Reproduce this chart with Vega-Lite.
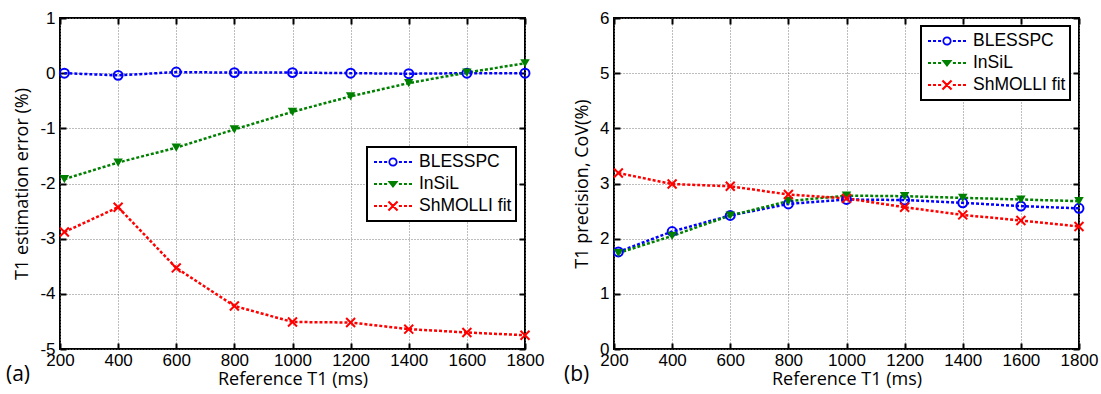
{
  "$schema": "https://vega.github.io/schema/vega-lite/v6.json",
  "background": "white",
  "padding": {"left": 5, "top": 8, "right": 5, "bottom": 2},
  "spacing": 18,
  "resolve": {"scale": {"color": "independent", "shape": "independent", "stroke": "independent"}, "legend": {"color": "independent", "shape": "independent"}},
  "config": {
    "view": {"stroke": "#000", "strokeWidth": 2},
    "axis": {
      "domain": false, "grid": true, "gridColor": "#7a7a7a", "gridDash": [1, 2], "gridWidth": 1,
      "tickColor": "#000", "tickSize": -6, "tickWidth": 2,
      "labelFont": "Liberation Sans", "labelFontSize": 17, "labelColor": "#000", "labelOverlap": false, "labelFlush": false, "format": "d",
      "titleFont": "Open Sans", "titleFontSize": 18, "titleFontWeight": "normal", "titleColor": "#000"
    },
    "legend": {
      "symbolSize": 1444, "clipHeight": 22, "symbolOffset": 3, "labelOffset": 7,
      "labelFont": "Liberation Sans", "labelFontSize": 17.5, "labelColor": "#000",
      "strokeColor": "#000", "strokeWidth": 2, "fillColor": "#fff", "padding": 4, "rowPadding": 0,
      "symbolStrokeWidth": 0, "symbolOpacity": 1
    }
  },
  "datasets": {
    "a": [
      {"x": 215, "y": 0.0, "series": "BLESSPC"}, {"x": 400, "y": -0.04, "series": "BLESSPC"}, {"x": 600, "y": 0.02, "series": "BLESSPC"},
      {"x": 800, "y": 0.01, "series": "BLESSPC"}, {"x": 1000, "y": 0.01, "series": "BLESSPC"}, {"x": 1200, "y": 0.0, "series": "BLESSPC"},
      {"x": 1400, "y": -0.01, "series": "BLESSPC"}, {"x": 1600, "y": 0.0, "series": "BLESSPC"}, {"x": 1800, "y": 0.0, "series": "BLESSPC"},
      {"x": 215, "y": -1.92, "series": "InSiL"}, {"x": 400, "y": -1.62, "series": "InSiL"}, {"x": 600, "y": -1.35, "series": "InSiL"},
      {"x": 800, "y": -1.02, "series": "InSiL"}, {"x": 1000, "y": -0.7, "series": "InSiL"}, {"x": 1200, "y": -0.42, "series": "InSiL"},
      {"x": 1400, "y": -0.18, "series": "InSiL"}, {"x": 1600, "y": 0.01, "series": "InSiL"}, {"x": 1800, "y": 0.18, "series": "InSiL"},
      {"x": 215, "y": -2.88, "series": "ShMOLLI fit"}, {"x": 400, "y": -2.43, "series": "ShMOLLI fit"}, {"x": 600, "y": -3.53, "series": "ShMOLLI fit"},
      {"x": 800, "y": -4.22, "series": "ShMOLLI fit"}, {"x": 1000, "y": -4.51, "series": "ShMOLLI fit"}, {"x": 1200, "y": -4.52, "series": "ShMOLLI fit"},
      {"x": 1400, "y": -4.64, "series": "ShMOLLI fit"}, {"x": 1600, "y": -4.7, "series": "ShMOLLI fit"}, {"x": 1800, "y": -4.75, "series": "ShMOLLI fit"}
    ],
    "b": [
      {"x": 215, "y": 1.76, "series": "BLESSPC"}, {"x": 400, "y": 2.13, "series": "BLESSPC"}, {"x": 600, "y": 2.42, "series": "BLESSPC"},
      {"x": 800, "y": 2.63, "series": "BLESSPC"}, {"x": 1000, "y": 2.71, "series": "BLESSPC"}, {"x": 1200, "y": 2.7, "series": "BLESSPC"},
      {"x": 1400, "y": 2.65, "series": "BLESSPC"}, {"x": 1600, "y": 2.59, "series": "BLESSPC"}, {"x": 1800, "y": 2.55, "series": "BLESSPC"},
      {"x": 215, "y": 1.74, "series": "InSiL"}, {"x": 400, "y": 2.05, "series": "InSiL"}, {"x": 600, "y": 2.42, "series": "InSiL"},
      {"x": 800, "y": 2.68, "series": "InSiL"}, {"x": 1000, "y": 2.78, "series": "InSiL"}, {"x": 1200, "y": 2.77, "series": "InSiL"},
      {"x": 1400, "y": 2.74, "series": "InSiL"}, {"x": 1600, "y": 2.71, "series": "InSiL"}, {"x": 1800, "y": 2.68, "series": "InSiL"},
      {"x": 215, "y": 3.19, "series": "ShMOLLI fit"}, {"x": 400, "y": 2.99, "series": "ShMOLLI fit"}, {"x": 600, "y": 2.95, "series": "ShMOLLI fit"},
      {"x": 800, "y": 2.8, "series": "ShMOLLI fit"}, {"x": 1000, "y": 2.73, "series": "ShMOLLI fit"}, {"x": 1200, "y": 2.57, "series": "ShMOLLI fit"},
      {"x": 1400, "y": 2.43, "series": "ShMOLLI fit"}, {"x": 1600, "y": 2.33, "series": "ShMOLLI fit"}, {"x": 1800, "y": 2.22, "series": "ShMOLLI fit"}
    ]
  },
  "hconcat": [
    {
      "width": 465, "height": 331,
      "data": {"name": "a"},
      "title": {"text": "(a)", "orient": "bottom", "anchor": "start", "frame": "group", "dx": -54, "offset": -24, "fontSize": 21, "font": "Open Sans", "fontWeight": "normal", "color": "#000"},
      "resolve": {"axis": {"x": "independent", "y": "independent"}},
      "layer": [
        {
          "encoding": {
            "x": {"field": "x", "type": "quantitative", "scale": {"domain": [200, 1800], "nice": false},
                  "axis": {"values": [200, 400, 600, 800, 1000, 1200, 1400, 1600, 1800], "title": "Reference T1 (ms)", "titlePadding": 2, "labelPadding": 9}},
            "y": {"field": "y", "type": "quantitative", "scale": {"domain": [-5, 1], "nice": false},
                  "axis": {"values": [-5, -4, -3, -2, -1, 0, 1], "title": "T1 estimation error (%)", "labelExpr": "toString(datum.value)", "labelPadding": 11, "titlePadding": 8}}
          },
          "layer": [
            {"mark": {"type": "line", "strokeWidth": 2.5, "strokeDash": [3, 2]},
             "encoding": {"stroke": {"field": "series", "type": "nominal", "scale": {"range": ["#0000ff", "#008000", "#ff0000"]}, "legend": null}}},
            {"transform": [{"filter": "datum.series === 'BLESSPC'"}],
             "mark": {"type": "point", "shape": "circle", "filled": false, "color": "#0000ff", "size": 80, "strokeWidth": 2, "opacity": 1}},
            {"transform": [{"filter": "datum.series === 'InSiL'"}],
             "mark": {"type": "point", "shape": "triangle-down", "filled": true, "color": "#008000", "size": 90, "opacity": 1}},
            {"transform": [{"filter": "datum.series === 'ShMOLLI fit'"}],
             "mark": {"type": "point", "shape": "M-1,-1L1,1M1,-1L-1,1", "filled": false, "color": "#ff0000", "size": 80, "strokeWidth": 2, "opacity": 1}}
          ]
        },
        {"transform": [{"filter": "datum.x < 0"}],
         "mark": {"type": "point", "filled": true, "size": 30, "opacity": 1},
         "encoding": {
           "x": {"field": "x", "type": "quantitative", "scale": {"domain": [200, 1800], "nice": false},
                 "axis": {"orient": "top", "values": [200, 400, 600, 800, 1000, 1200, 1400, 1600, 1800], "labels": false, "title": null, "grid": false}},
           "y": {"field": "y", "type": "quantitative", "scale": {"domain": [-5, 1], "nice": false},
                 "axis": {"orient": "right", "values": [-5, -4, -3, -2, -1, 0, 1], "labels": false, "title": null, "grid": false}},
           "color": {"field": "series", "type": "nominal", "scale": {"domain": ["BLESSPC", "InSiL", "ShMOLLI fit"], "range": ["#0000ff", "#008000", "#ff0000"]},
                     "legend": {"orient": "none", "legendX": 307, "legendY": 129, "title": null}},
           "shape": {"field": "series", "type": "nominal", "scale": {"domain": ["BLESSPC", "InSiL", "ShMOLLI fit"], "range": [
             "M-1,-0.053H-0.84V0.053H-1Z M-0.735,-0.053H-0.575V0.053H-0.735Z M-0.47,-0.053H-0.31V0.053H-0.47Z M0.31,-0.053H0.47V0.053H0.31Z M0.575,-0.053H0.735V0.053H0.575Z M0.84,-0.053H1V0.053H0.84Z M-0.24,0A0.24,0.24 0 1,1 0.24,0A0.24,0.24 0 1,1 -0.24,0Z M-0.15,0A0.15,0.15 0 1,0 0.15,0A0.15,0.15 0 1,0 -0.15,0Z",
             "M-1,-0.053H-0.84V0.053H-1Z M-0.735,-0.053H-0.575V0.053H-0.735Z M-0.47,-0.053H-0.31V0.053H-0.47Z M0.31,-0.053H0.47V0.053H0.31Z M0.575,-0.053H0.735V0.053H0.575Z M0.84,-0.053H1V0.053H0.84Z M-0.29,-0.16L0.29,-0.16L0,0.21Z",
             "M-1,-0.053H-0.84V0.053H-1Z M-0.735,-0.053H-0.575V0.053H-0.735Z M-0.47,-0.053H-0.31V0.053H-0.47Z M0.31,-0.053H0.47V0.053H0.31Z M0.575,-0.053H0.735V0.053H0.575Z M0.84,-0.053H1V0.053H0.84Z M-0.2,-0.28L0.28,0.2L0.2,0.28L-0.28,-0.2Z M0.28,-0.2L-0.2,0.28L-0.28,0.2L0.2,-0.28Z"
           ]}, "legend": {"orient": "none", "legendX": 307, "legendY": 129, "title": null}}
         }}
      ]
    },
    {
      "width": 465, "height": 331,
      "data": {"name": "b"},
      "title": {"text": "(b)", "orient": "bottom", "anchor": "start", "frame": "group", "dx": -50, "offset": -24, "fontSize": 21, "font": "Open Sans", "fontWeight": "normal", "color": "#000"},
      "resolve": {"axis": {"x": "independent", "y": "independent"}},
      "layer": [
        {
          "encoding": {
            "x": {"field": "x", "type": "quantitative", "scale": {"domain": [200, 1800], "nice": false},
                  "axis": {"values": [200, 400, 600, 800, 1000, 1200, 1400, 1600, 1800], "title": "Reference T1 (ms)", "titlePadding": 2, "labelPadding": 9}},
            "y": {"field": "y", "type": "quantitative", "scale": {"domain": [0, 6], "nice": false},
                  "axis": {"values": [0, 1, 2, 3, 4, 5, 6], "title": "T1 precision, CoV(%)", "labelExpr": "toString(datum.value)", "labelPadding": 11, "titlePadding": 8}}
          },
          "layer": [
            {"mark": {"type": "line", "strokeWidth": 2.5, "strokeDash": [3, 2]},
             "encoding": {"stroke": {"field": "series", "type": "nominal", "scale": {"range": ["#0000ff", "#008000", "#ff0000"]}, "legend": null}}},
            {"transform": [{"filter": "datum.series === 'BLESSPC'"}],
             "mark": {"type": "point", "shape": "circle", "filled": false, "color": "#0000ff", "size": 80, "strokeWidth": 2, "opacity": 1}},
            {"transform": [{"filter": "datum.series === 'InSiL'"}],
             "mark": {"type": "point", "shape": "triangle-down", "filled": true, "color": "#008000", "size": 90, "opacity": 1}},
            {"transform": [{"filter": "datum.series === 'ShMOLLI fit'"}],
             "mark": {"type": "point", "shape": "M-1,-1L1,1M1,-1L-1,1", "filled": false, "color": "#ff0000", "size": 80, "strokeWidth": 2, "opacity": 1}}
          ]
        },
        {"transform": [{"filter": "datum.x < 0"}],
         "mark": {"type": "point", "filled": true, "size": 30, "opacity": 1},
         "encoding": {
           "x": {"field": "x", "type": "quantitative", "scale": {"domain": [200, 1800], "nice": false},
                 "axis": {"orient": "top", "values": [200, 400, 600, 800, 1000, 1200, 1400, 1600, 1800], "labels": false, "title": null, "grid": false}},
           "y": {"field": "y", "type": "quantitative", "scale": {"domain": [0, 6], "nice": false},
                 "axis": {"orient": "right", "values": [0, 1, 2, 3, 4, 5, 6], "labels": false, "title": null, "grid": false}},
           "color": {"field": "series", "type": "nominal", "scale": {"domain": ["BLESSPC", "InSiL", "ShMOLLI fit"], "range": ["#0000ff", "#008000", "#ff0000"]},
                     "legend": {"orient": "none", "legendX": 307, "legendY": 8, "title": null}},
           "shape": {"field": "series", "type": "nominal", "scale": {"domain": ["BLESSPC", "InSiL", "ShMOLLI fit"], "range": [
             "M-1,-0.053H-0.84V0.053H-1Z M-0.735,-0.053H-0.575V0.053H-0.735Z M-0.47,-0.053H-0.31V0.053H-0.47Z M0.31,-0.053H0.47V0.053H0.31Z M0.575,-0.053H0.735V0.053H0.575Z M0.84,-0.053H1V0.053H0.84Z M-0.24,0A0.24,0.24 0 1,1 0.24,0A0.24,0.24 0 1,1 -0.24,0Z M-0.15,0A0.15,0.15 0 1,0 0.15,0A0.15,0.15 0 1,0 -0.15,0Z",
             "M-1,-0.053H-0.84V0.053H-1Z M-0.735,-0.053H-0.575V0.053H-0.735Z M-0.47,-0.053H-0.31V0.053H-0.47Z M0.31,-0.053H0.47V0.053H0.31Z M0.575,-0.053H0.735V0.053H0.575Z M0.84,-0.053H1V0.053H0.84Z M-0.29,-0.16L0.29,-0.16L0,0.21Z",
             "M-1,-0.053H-0.84V0.053H-1Z M-0.735,-0.053H-0.575V0.053H-0.735Z M-0.47,-0.053H-0.31V0.053H-0.47Z M0.31,-0.053H0.47V0.053H0.31Z M0.575,-0.053H0.735V0.053H0.575Z M0.84,-0.053H1V0.053H0.84Z M-0.2,-0.28L0.28,0.2L0.2,0.28L-0.28,-0.2Z M0.28,-0.2L-0.2,0.28L-0.28,0.2L0.2,-0.28Z"
           ]}, "legend": {"orient": "none", "legendX": 307, "legendY": 8, "title": null}}
         }}
      ]
    }
  ]
}
